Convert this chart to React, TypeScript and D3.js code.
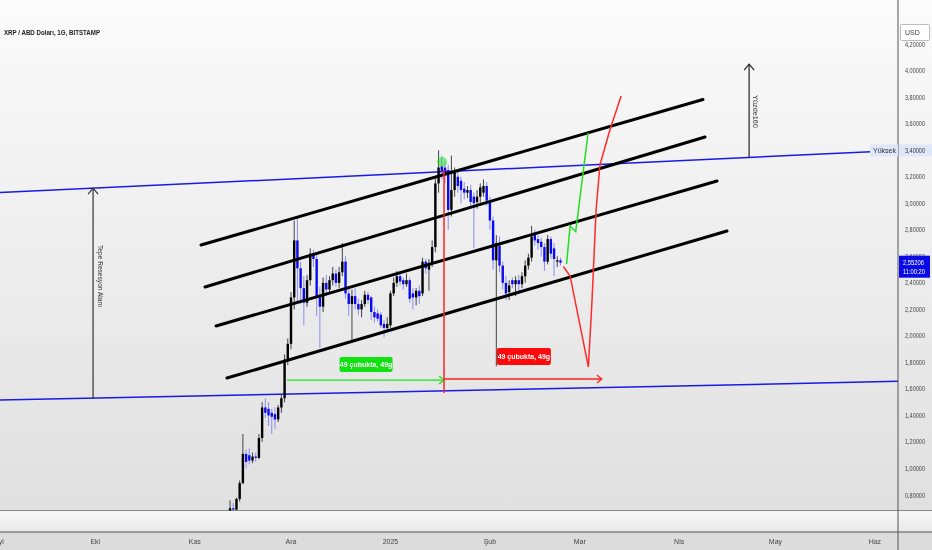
import React from 'react';
import * as d3 from 'd3';

const W = 932;
const H = 550;
const PLOT_R = 898;
const PLOT_B = 510.5;
const DAY = 864e5;
const DEC1 = Date.UTC(2024, 11, 1);
const FEB1 = Date.UTC(2025, 1, 1);
const FIRST_CANDLE = Date.UTC(2024, 10, 10);

// [open, high, low, close] per day, starting 10 Nov 2024
const novCandles: number[][] = [
  [0.56, 0.62, 0.55, 0.61], [0.61, 0.68, 0.59, 0.66], [0.66, 0.76, 0.64, 0.70], [0.70, 0.74, 0.66, 0.69],
  [0.69, 0.78, 0.67, 0.77], [0.77, 0.91, 0.75, 0.89], [0.89, 1.26, 0.88, 1.11], [1.11, 1.14, 1.00, 1.05],
  [1.10, 1.15, 1.03, 1.06], [1.06, 1.12, 1.04, 1.09], [1.09, 1.12, 1.05, 1.08], [1.08, 1.26, 1.07, 1.23],
  [1.23, 1.50, 1.20, 1.46], [1.46, 1.53, 1.38, 1.42], [1.45, 1.50, 1.32, 1.40], [1.42, 1.45, 1.26, 1.39],
  [1.41, 1.46, 1.30, 1.37], [1.37, 1.48, 1.35, 1.46], [1.46, 1.56, 1.42, 1.53], [1.53, 1.86, 1.50, 1.82],
  [1.82, 1.98, 1.78, 1.94],
];
const decCandles: number[][] = [
  [1.94, 2.33, 1.90, 2.29], [2.29, 2.87, 2.20, 2.72], [2.72, 2.90, 2.25, 2.51], [2.51, 2.56, 2.24, 2.36],
  [2.36, 2.45, 2.08, 2.25], [2.25, 2.46, 2.22, 2.42], [2.42, 2.66, 2.38, 2.62], [2.62, 2.65, 2.52, 2.58],
  [2.58, 2.61, 2.15, 2.30], [2.30, 2.37, 1.91, 2.22], [2.22, 2.44, 2.18, 2.40], [2.40, 2.46, 2.30, 2.35],
  [2.35, 2.45, 2.32, 2.42], [2.42, 2.52, 2.38, 2.47], [2.47, 2.50, 2.37, 2.40], [2.40, 2.52, 2.36, 2.48],
  [2.48, 2.70, 2.45, 2.56], [2.56, 2.60, 2.28, 2.32], [2.32, 2.37, 2.15, 2.24], [2.24, 2.35, 1.97, 2.30],
  [2.30, 2.36, 2.20, 2.24], [2.24, 2.28, 2.16, 2.20], [2.20, 2.27, 2.14, 2.24], [2.24, 2.34, 2.22, 2.31],
  [2.31, 2.33, 2.24, 2.27], [2.29, 2.30, 2.12, 2.18], [2.18, 2.22, 2.10, 2.14], [2.17, 2.20, 2.11, 2.13],
  [2.16, 2.18, 2.06, 2.08], [2.09, 2.12, 1.99, 2.06], [2.06, 2.14, 2.04, 2.09],
];
const janCandles: number[][] = [
  [2.08, 2.34, 2.06, 2.32], [2.32, 2.44, 2.30, 2.40], [2.40, 2.49, 2.37, 2.45], [2.45, 2.48, 2.38, 2.41],
  [2.42, 2.44, 2.35, 2.39], [2.39, 2.47, 2.37, 2.42], [2.42, 2.44, 2.25, 2.28], [2.32, 2.36, 2.20, 2.29],
  [2.29, 2.36, 2.23, 2.34], [2.34, 2.38, 2.24, 2.30], [2.32, 2.59, 2.30, 2.56], [2.56, 2.58, 2.47, 2.51],
  [2.50, 2.58, 2.34, 2.55], [2.55, 2.72, 2.52, 2.67], [2.67, 3.20, 2.63, 3.15], [3.15, 3.40, 3.08, 3.27],
  [3.28, 3.36, 3.18, 3.24], [3.27, 3.31, 3.15, 3.22], [3.25, 3.29, 2.80, 2.95], [2.95, 3.36, 2.90, 3.10],
  [3.10, 3.27, 3.05, 3.24], [3.20, 3.25, 3.08, 3.13], [3.17, 3.20, 3.00, 3.10], [3.11, 3.16, 3.03, 3.08],
  [3.08, 3.13, 3.04, 3.10], [3.10, 3.14, 2.98, 3.01], [3.05, 3.08, 2.66, 3.00], [3.01, 3.10, 2.96, 3.05],
  [3.05, 3.15, 3.00, 3.12], [3.08, 3.18, 3.05, 3.13], [3.13, 3.16, 2.98, 3.02],
];
const febCandles: number[][] = [
  [3.02, 3.05, 2.80, 2.87], [2.87, 2.90, 2.50, 2.57], [2.57, 2.76, 1.77, 2.70], [2.68, 2.75, 2.48, 2.53],
  [2.53, 2.56, 2.35, 2.40], [2.40, 2.45, 2.27, 2.32], [2.33, 2.42, 2.27, 2.38], [2.42, 2.44, 2.36, 2.39],
  [2.39, 2.45, 2.30, 2.42], [2.42, 2.46, 2.34, 2.39], [2.39, 2.48, 2.36, 2.45], [2.45, 2.57, 2.40, 2.53],
  [2.53, 2.62, 2.50, 2.59], [2.59, 2.83, 2.56, 2.75], [2.76, 2.80, 2.68, 2.72], [2.73, 2.76, 2.65, 2.70],
  [2.71, 2.74, 2.60, 2.67], [2.67, 2.70, 2.49, 2.56], [2.56, 2.76, 2.54, 2.73], [2.73, 2.75, 2.58, 2.62],
  [2.66, 2.70, 2.45, 2.58], [2.56, 2.60, 2.52, 2.57], [2.57, 2.59, 2.53, 2.55206],
];

const lastPrice = 2.55206;
const countdown = '11:00:20';
const title = 'XRP / ABD Doları, 1G, BITSTAMP';

const priceTicks = [0.8, 1.0, 1.2, 1.4, 1.6, 1.8, 2.0, 2.2, 2.4, 2.6, 2.8, 3.0, 3.2, 3.4, 3.6, 3.8, 4.0, 4.2];
const monthTicks: [number, string][] = [
  [Date.UTC(2024, 8, 1), 'Eyl'], [Date.UTC(2024, 9, 1), 'Eki'], [Date.UTC(2024, 10, 1), 'Kas'],
  [Date.UTC(2024, 11, 1), 'Ara'], [Date.UTC(2025, 0, 1), '2025'], [Date.UTC(2025, 1, 1), 'Şub'],
  [Date.UTC(2025, 2, 1), 'Mar'], [Date.UTC(2025, 3, 1), 'Nis'], [Date.UTC(2025, 4, 1), 'May'],
  [Date.UTC(2025, 5, 1), 'Haz'],
];

// drawings in (days from 1 Dec 2024, price)
const channelLines: number[][] = [
  [-28.05, 2.685, 128.4, 3.783],
  [-26.8, 2.369, 129.05, 3.5],
  [-23.38, 2.075, 132.8, 3.168],
  [-19.95, 1.682, 135.9, 2.791],
];
const upperBlue = [-90.7, 3.081, 189.2, 3.399];
const lowerBlue = [-90.7, 1.516, 189.2, 1.657];
const greenProjection: number[][] = [[85.9, 2.542], [87.0, 2.829], [88.75, 2.786], [92.6, 3.53]];
const redProjection: number[][] = [
  [84.9, 2.523], [87.0, 2.452], [92.7, 1.765], [93.84, 2.271], [95.1, 2.949], [96.3, 3.289], [99.4, 3.553], [102.9, 3.809],
];
const greenMeasure = { d0: -1.25, d1: 47.7, p: 1.667, labelD: 23.4, labelP: 1.784 };
const redMeasure = { d0: 47.7, d1: 96.9, p: 1.675, pTop: 3.251, pBot: 1.569, labelD: 72.6, labelP: 1.845 };
const measureLabel = '49 çubukta, 49g';
const peakMarker = [47.1, 3.311];
const recessionArrow = { d: -61.7, label: 'Tepe Resesyon Alanı' };
const percentArrow = { d: 142.8, pTop: 4.05, label: 'Yüzde160' };

const x = d3.scaleTime().domain([new Date(DEC1), new Date(FEB1)]).range([291, 489.9]);
const y = d3.scaleLinear().domain([0.8, 4.0]).range([495, 70.7]);
const dx = (d: number) => x(new Date(DEC1 + d * DAY));
const lineAt = (l: number[], d: number) => l[1] + ((d - l[0]) / (l[2] - l[0])) * (l[3] - l[1]);
const fmt = (v: number) => d3.format('.5f')(v).replace('.', ',');

const allCandles = [...novCandles, ...decCandles, ...janCandles, ...febCandles].map((c, i) => ({
  date: new Date(FIRST_CANDLE + i * DAY),
  o: c[0], h: c[1], l: c[2], c: c[3],
}));

const FONT = '"Liberation Sans", Arial, sans-serif';

export default function App() {
  const line = d3.line<number[]>().x((p) => dx(p[0])).y((p) => y(p[1]));
  const gx0 = dx(greenMeasure.d0);
  const gx1 = dx(greenMeasure.d1);
  const gy = y(greenMeasure.p);
  const rx0 = dx(redMeasure.d0);
  const rx1 = dx(redMeasure.d1);
  const ry = y(redMeasure.p);
  const tepeX = dx(recessionArrow.d);
  const tepeTop = y(lineAt(upperBlue, recessionArrow.d));
  const tepeBot = y(lineAt(lowerBlue, recessionArrow.d));
  const pctX = dx(percentArrow.d);
  const pctBot = y(lineAt(upperBlue, percentArrow.d));
  const pctTop = y(percentArrow.pTop);
  const yuksekY = y(lineAt(upperBlue, 189.2));
  const lastY = y(lastPrice);

  return (
    <svg width={W} height={H} style={{ position: 'fixed', left: 0, top: 0, display: 'block' }}
      fontFamily={FONT}>
      <defs>
        <linearGradient id="bg" x1="0" y1="0" x2="0" y2="1">
          <stop offset="0" stopColor="#fbfbfb" />
          <stop offset="1" stopColor="#e0e0e0" />
        </linearGradient>
        <linearGradient id="band" x1="0" y1="0" x2="0" y2="1">
          <stop offset="0" stopColor="#f7f7f7" />
          <stop offset="1" stopColor="#e9e9e9" />
        </linearGradient>
        <clipPath id="plot">
          <rect x={0} y={0} width={PLOT_R} height={PLOT_B} />
        </clipPath>
      </defs>
      <rect x={0} y={0} width={W} height={PLOT_B} fill="url(#bg)" />
      <rect x={0} y={PLOT_B} width={W} height={532 - PLOT_B} fill="url(#band)" />
      <rect x={0} y={532} width={W} height={H - 532} fill="#dcdcdc" />
      <line x1={0} x2={W} y1={PLOT_B} y2={PLOT_B} stroke="#8a8a8a" strokeWidth={1} />
      <line x1={0} x2={W} y1={532} y2={532} stroke="#555" strokeWidth={1} />

      <g clipPath="url(#plot)">
        {[upperBlue, lowerBlue].map((l, i) => (
          <line key={i} x1={dx(l[0])} y1={y(l[1])} x2={dx(l[2])} y2={y(l[3])} stroke="#1a1ae6" strokeWidth={1.5} />
        ))}

        {allCandles.map((c, i) => {
          const cx = x(c.date);
          const up = c.c >= c.o;
          const top = y(Math.max(c.o, c.c));
          const bot = y(Math.min(c.o, c.c));
          return (
            <g key={i}>
              <line x1={cx} x2={cx} y1={y(c.h)} y2={y(c.l)} stroke={up ? '#444' : '#8a8af5'} strokeWidth={1} />
              <rect x={cx - 1.2} y={top} width={2.4} height={Math.max(1, bot - top)} fill={up ? '#000' : '#0a0aee'} />
            </g>
          );
        })}

        {channelLines.map((l, i) => (
          <line key={i} x1={dx(l[0])} y1={y(l[1])} x2={dx(l[2])} y2={y(l[3])} stroke="#000" strokeWidth={3} strokeLinecap="round" />
        ))}

        <circle cx={dx(peakMarker[0])} cy={y(peakMarker[1])} r={5} fill="#22dd22" fillOpacity={0.55} />

        <line x1={gx0} x2={gx1} y1={gy} y2={gy} stroke="#19e619" strokeWidth={1.3} />
        <path d={`M${gx1 - 5},${gy - 4}L${gx1},${gy}L${gx1 - 5},${gy + 4}`} fill="none" stroke="#19e619" strokeWidth={1.3} />
        <rect x={dx(greenMeasure.labelD) - 26.5} y={y(greenMeasure.labelP) - 7.5} width={53} height={15} rx={2} fill="#11e011" />
        <text x={dx(greenMeasure.labelD)} y={y(greenMeasure.labelP) + 2.5} fontSize={7} fill="#fff" textAnchor="middle" fontWeight="bold">{measureLabel}</text>

        <line x1={rx0} x2={rx0} y1={y(redMeasure.pTop)} y2={y(redMeasure.pBot)} stroke="#ff2222" strokeWidth={1.5} />
        <line x1={rx0} x2={rx1} y1={ry} y2={ry} stroke="#ff2222" strokeWidth={1.3} />
        <path d={`M${rx1 - 5},${ry - 4}L${rx1},${ry}L${rx1 - 5},${ry + 4}`} fill="none" stroke="#ff2222" strokeWidth={1.3} />
        <rect x={dx(redMeasure.labelD) - 27} y={y(redMeasure.labelP) - 8.5} width={54} height={17} rx={2} fill="#ff0a0a" />
        <text x={dx(redMeasure.labelD)} y={y(redMeasure.labelP) + 2.5} fontSize={7} fill="#fff" textAnchor="middle" fontWeight="bold">{measureLabel}</text>

        <path d={line(greenProjection) || ''} fill="none" stroke="#22dd22" strokeWidth={1.5} />
        <path d={line(redProjection) || ''} fill="none" stroke="#ff2a2a" strokeWidth={1.5} />

        <line x1={tepeX} x2={tepeX} y1={tepeTop} y2={tepeBot} stroke="#333" strokeWidth={1.2} />
        <path d={`M${tepeX - 5},${tepeTop + 6}L${tepeX},${tepeTop}L${tepeX + 5},${tepeTop + 6}`} fill="none" stroke="#333" strokeWidth={1.2} />
        <text transform={`translate(${tepeX + 4.5},276) rotate(90)`} fontSize={8} fill="#333" textAnchor="middle" textLength={62} lengthAdjust="spacingAndGlyphs">{recessionArrow.label}</text>
        <line x1={pctX} x2={pctX} y1={pctTop} y2={pctBot} stroke="#222" strokeWidth={1.2} />
        <path d={`M${pctX - 5},${pctTop + 6}L${pctX},${pctTop}L${pctX + 5},${pctTop + 6}`} fill="none" stroke="#222" strokeWidth={1.2} />
        <text transform={`translate(${pctX + 4},111.5) rotate(90)`} fontSize={8} fill="#333" textAnchor="middle" textLength={33} lengthAdjust="spacingAndGlyphs">{percentArrow.label}</text>
      </g>

      <text x={4} y={35} fontSize={8} fontWeight="bold" fill="#222" textLength={96} lengthAdjust="spacingAndGlyphs">{title}</text>

      <line x1={PLOT_R} x2={PLOT_R} y1={0} y2={H} stroke="#555" strokeWidth={1} />
      {priceTicks.map((t) => (
        <text key={t} x={905} y={y(t) + 2.5} fontSize={7} fill="#444" textLength={20} lengthAdjust="spacingAndGlyphs">{fmt(t)}</text>
      ))}
      <rect x={870} y={yuksekY - 6} width={PLOT_R - 870} height={12} fill="#dfe7fb" />
      <text x={896} y={yuksekY + 2.5} fontSize={7} fill="#333" textAnchor="end">Yüksek</text>
      <rect x={PLOT_R + 1} y={yuksekY - 6} width={W - PLOT_R - 1} height={12} fill="#dfe7fb" />
      <text x={905} y={yuksekY + 2.5} fontSize={7} fill="#333" textLength={20} lengthAdjust="spacingAndGlyphs">{fmt(3.4)}</text>

      <rect x={PLOT_R + 1} y={lastY - 7} width={31} height={22} fill="#0a0ae6" />
      <text x={903} y={lastY + 2.5} fontSize={7} fill="#fff" textLength={21} lengthAdjust="spacingAndGlyphs">{fmt(lastPrice)}</text>
      <text x={903} y={lastY + 11.5} fontSize={7} fill="#fff" textLength={22} lengthAdjust="spacingAndGlyphs">{countdown}</text>

      <rect x={900.5} y={24.5} width={29} height={16} fill="#fff" stroke="#bbb" strokeWidth={1} rx={1} />
      <text x={905} y={35} fontSize={7} fill="#444">USD</text>

      {monthTicks.map(([t, label]) => (
        <text key={label} x={x(new Date(t))} y={544} fontSize={7} fill="#444" textAnchor="middle">{label}</text>
      ))}
    </svg>
  );
}
